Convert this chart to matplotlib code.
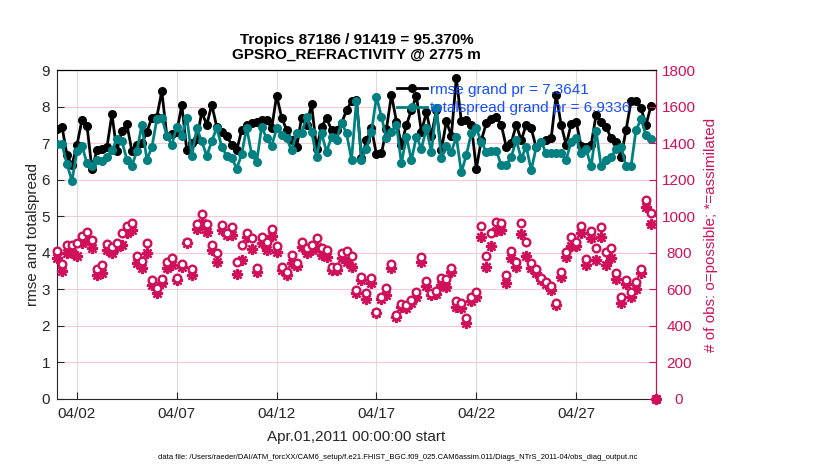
import numpy as np
import matplotlib
matplotlib.use("Agg")
import matplotlib.pyplot as plt
import matplotlib.dates as mdates

plt.rcParams['font.family'] = ['Liberation Sans', 'DejaVu Sans']

# 6-hourly bins, Apr 1 00Z .. Apr 30 18Z (plus May 1 00Z with no obs)
times = np.datetime64('2011-04-01T00:00') + np.arange(121) * np.timedelta64(6, 'h')

rmse = [7.39, 7.45, 6.67, 6.40, 6.95, 7.63, 7.48, 6.30, 6.80, 6.83,
        6.88, 7.79, 6.79, 7.34, 7.51, 6.79, 6.95, 7.00, 7.30, 7.70,
        7.72, 8.42, 7.20, 7.25, 7.30, 8.05, 6.80, 7.00, 7.10, 7.85,
        7.50, 8.05, 7.45, 7.30, 7.20, 6.95, 6.80, 7.36, 7.50, 7.56,
        7.59, 7.63, 7.63, 7.40, 8.30, 7.70, 7.36, 7.08, 6.88, 7.70,
        7.50, 8.06, 6.85, 7.45, 7.68, 7.36, 7.36, 7.54, 7.90, 8.14,
        8.18, 6.58, 7.08, 7.40, 6.69, 6.72, 7.39, 8.32, 7.59, 6.95,
        7.50, 7.90, 8.30, 7.30, 7.85, 7.20, 7.90, 6.80, 7.60, 7.20,
        8.78, 7.60, 7.63, 7.50, 6.30, 7.08, 7.54, 7.65, 7.72, 7.50,
        6.90, 7.00, 7.50, 7.08, 7.50, 7.40, 6.88, 7.04, 7.08, 7.13,
        8.32, 7.50, 6.95, 7.52, 7.59, 6.92, 6.88, 6.95, 7.77, 7.59,
        7.45, 7.13, 7.04, 6.62, 7.36, 8.14, 8.14, 7.95, 7.50, 8.02, np.nan]

spread = [6.97, 6.97, 6.42, 5.97, 6.78, 6.93, 6.45, 6.38, 6.55, 6.52,
          6.62, 6.80, 7.10, 7.05, 6.55, 6.38, 6.78, 7.50, 6.55, 6.88,
          7.65, 7.70, 7.20, 6.95, 7.45, 7.20, 7.70, 6.65, 7.40, 7.05,
          6.65, 7.05, 7.42, 6.90, 6.65, 6.60, 6.30, 6.70, 7.42, 6.69,
          6.49, 7.45, 7.13, 6.92, 7.40, 7.22, 7.13, 6.80, 7.27, 7.27,
          7.72, 7.31, 6.62, 7.27, 6.76, 7.17, 7.08, 7.56, 7.27, 6.55,
          8.16, 6.55, 6.85, 7.30, 8.27, 7.72, 7.13, 7.30, 7.50, 6.45,
          7.18, 6.53, 7.18, 6.85, 7.40, 6.75, 7.95, 6.60, 6.92, 6.76,
          7.17, 6.20, 6.67, 7.27, 7.40, 7.04, 6.76, 6.79, 6.79, 6.40,
          6.40, 6.62, 7.08, 6.58, 6.90, 6.26, 6.88, 7.04, 6.72, 6.72,
          6.73, 6.72, 6.55, 7.04, 7.13, 6.72, 6.83, 6.37, 7.34, 6.37,
          6.55, 6.62, 6.83, 6.90, 6.37, 6.37, 7.36, 7.65, 7.22, 7.10, np.nan]

n_poss = [810, 737, 843, 843, 852, 892, 914, 870, 711, 733,
          848, 833, 852, 906, 946, 961, 782, 755, 852, 651,
          605, 657, 748, 770, 660, 739, 861, 711, 957, 1012,
          957, 843, 797, 952, 910, 943, 751, 843, 910, 879,
          715, 884, 861, 928, 837, 724, 697, 788, 746, 861,
          824, 843, 879, 824, 815, 724, 724, 797, 810, 782,
          596, 666, 582, 660, 478, 560, 605, 739, 460, 520,
          514, 542, 587, 775, 647, 582, 593, 660, 655, 715,
          538, 527, 441, 556, 587, 946, 782, 906, 970, 965,
          678, 810, 751, 965, 857, 746, 710, 660, 642, 618,
          527, 697, 806, 884, 861, 946, 764, 919, 824, 939,
          806, 824, 688, 556, 651, 587, 642, 710, 1089, 1016, 0]

n_used = [770, 700, 801, 797, 782, 855, 870, 824, 678, 691,
          815, 797, 833, 843, 906, 925, 746, 715, 801, 624,
          578, 633, 715, 733, 651, 724, 852, 678, 928, 961,
          915, 815, 751, 925, 897, 897, 684, 760, 888, 819,
          697, 852, 815, 892, 806, 706, 678, 742, 728, 833,
          801, 815, 833, 788, 775, 706, 706, 770, 751, 724,
          582, 651, 545, 633, 469, 545, 569, 715, 447, 505,
          496, 527, 560, 751, 618, 569, 574, 624, 615, 697,
          505, 496, 414, 538, 560, 888, 720, 837, 921, 925,
          636, 770, 724, 901, 782, 715, 688, 651, 629, 596,
          514, 666, 779, 837, 837, 906, 733, 879, 760, 884,
          733, 770, 655, 524, 629, 556, 600, 691, 1049, 957, 0]

xticks = ['2011-04-02', '2011-04-07', '2011-04-12', '2011-04-17', '2011-04-22', '2011-04-27']

crimson = '#d0105a'
teal = '#008080'
dark = '#262626'

fig = plt.figure(figsize=(8.3, 4.7), dpi=100)
ax = fig.add_axes([57/830, 71/470, 599/830, 329/470])
ax2 = ax.twinx()

ax.plot(times, rmse, '-o', color='black', lw=2, ms=5.5, label='rmse grand pr = 7.3641', zorder=3)
ax.plot(times, spread, '-o', color=teal, lw=2, ms=5.5, label='totalspread grand pr = 6.9336', zorder=3)

ax2.plot(times, n_used, ls='none', marker=(8, 2, 0), ms=8, mew=1.7, color=crimson, clip_on=False)
ax2.plot(times, n_poss, ls='none', marker='o', ms=5.5, mew=1.7, mfc='white', mec=crimson, clip_on=False)
ax2.plot(times[-1:], n_poss[-1:], ls='none', marker='o', ms=5.5, color=crimson, clip_on=False)

ax.set_xlim(np.datetime64('2011-04-01T00:00'), np.datetime64('2011-05-01T00:00'))
ax.set_xticks([np.datetime64(t) for t in xticks])
ax.xaxis.set_major_formatter(mdates.DateFormatter('%m/%d'))
ax.set_ylim(0, 9)
ax.set_yticks(range(10))
ax2.set_ylim(0, 1800)
ax2.set_yticks(range(0, 1801, 200))

ax.grid(axis='x', color='#dcdcdc', lw=0.8)
ax.grid(axis='y', color='#f5c9d9', lw=0.8)
ax.set_axisbelow(True)

ax.tick_params(direction='in', length=5, labelsize=11, colors=dark, right=False, top=False)
ax.tick_params(axis='y', pad=5)
ax.tick_params(axis='x', pad=6)
ax2.tick_params(direction='in', length=5, labelsize=11, colors=crimson, pad=16.5)
for lbl in ax2.get_yticklabels():
    lbl.set_horizontalalignment('center')
ax2.spines['right'].set_color(crimson)
ax.spines['left'].set_color(dark)
ax.spines['bottom'].set_color(dark)
ax2.spines['left'].set_visible(False)
ax2.spines['bottom'].set_visible(False)

ax.set_ylabel('rmse and totalspread', fontsize=11, color=dark, labelpad=1)
ax2.set_ylabel('# of obs: o=possible; *=assimilated', fontsize=11, color=crimson, labelpad=6)
ax.set_xlabel('Apr.01,2011 00:00:00 start', fontsize=11, color=dark, labelpad=6)
ax.set_title('Tropics 87186 / 91419 = 95.370%\nGPSRO_REFRACTIVITY @ 2775 m',
             fontsize=11, fontweight='bold', pad=8, linespacing=1.1)

ax.legend(loc='upper left', bbox_to_anchor=(0.567, 0.962), frameon=False, fontsize=11,
          labelcolor='#1450ff', handlelength=2.0, handletextpad=0.2, labelspacing=0.3,
          borderaxespad=0, borderpad=0)

fig.text(0.479, 0.024, 'data file: /Users/raeder/DAI/ATM_forcXX/CAM6_setup/f.e21.FHIST_BGC.f09_025.CAM6assim.011/Diags_NTrS_2011-04/obs_diag_output.nc',
         fontsize=5.5, ha='center', color='black')

fig.savefig('out.png', dpi=100)
